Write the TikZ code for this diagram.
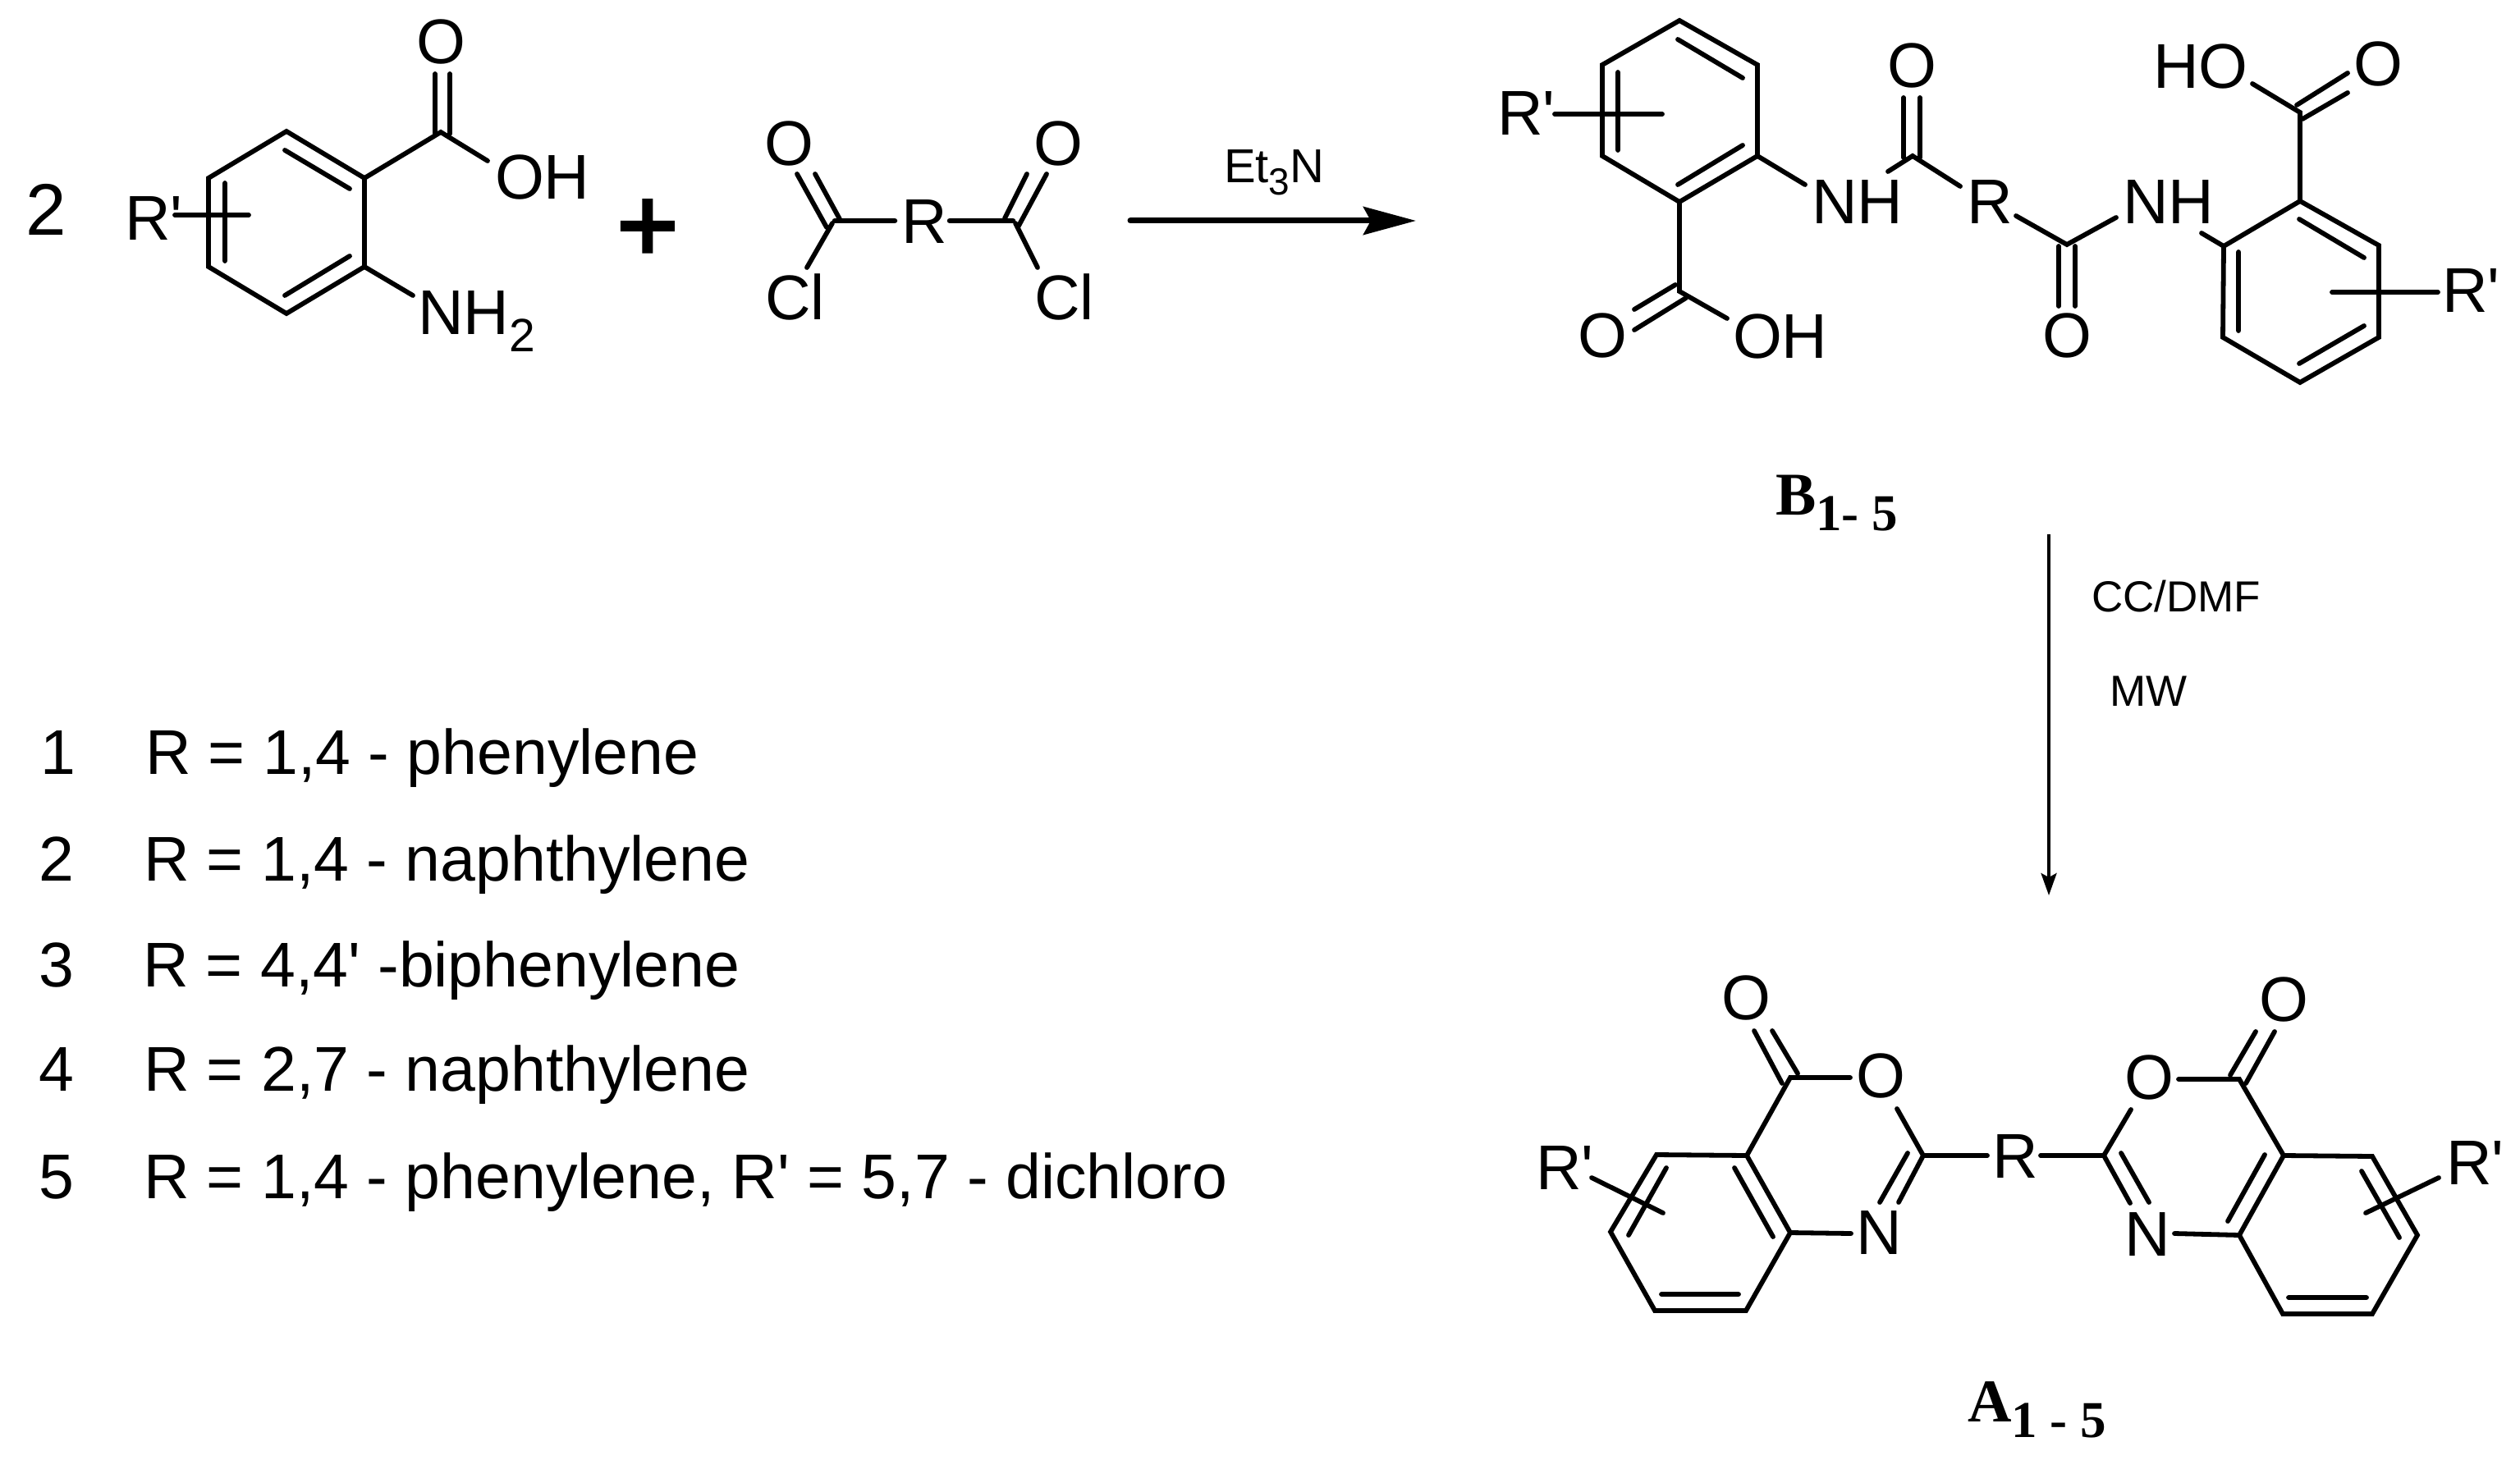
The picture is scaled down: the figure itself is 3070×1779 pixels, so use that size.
\documentclass[tikz,border=0pt]{standalone}
\usepackage{fontspec}
\usetikzlibrary{arrows.meta}
\newfontfamily\af{Liberation Sans}
\newfontfamily\afheavy{Liberation Sans}[FakeBold=3]
\newfontfamily\tf{Liberation Serif}
\newcommand\fsz[1]{\fontsize{#1}{#1}\selectfont}
\newcommand\subtxt[3]{\raisebox{-#1pt}{\fsz{#2}#3}}
\tikzset{
  bond/.style={line width=5.8pt,line cap=round,line join=miter,black},
  hbond/.style={line width=6.5pt,line cap=round,black},
  lbl/.style={inner sep=0pt,outer sep=0pt,anchor=base west,font=\af\fsz{77},text=black},
  lblc/.style={lbl,anchor=base},
  listline/.style={lbl},
  cond/.style={lbl,font=\af\fsz{53}},
  cpd/.style={lbl,font=\tf\bfseries\fsz{74}},
  rxnbig/.style={-{Stealth[length=64pt,width=34pt,inset=9pt]},line width=7pt,line cap=round,black},
  rxnthin/.style={-{Stealth[length=27pt,width=19pt,inset=5pt]},line width=3.5pt,black},
}
\begin{document}
\begin{tikzpicture}[x=1pt,y=-1pt]
\fill[white] (0,0) rectangle (3070,1779);
\useasboundingbox (0,0) rectangle (3070,1779);

% ---------- anthranilic acid
\draw[bond] (349,160) -- (444,217) -- (444,325) -- (349,382) -- (254,325) -- (254,217) -- cycle;
\draw[bond] (347,183) -- (426,230) (426,312) -- (347,360) (274,223) -- (274,318);
\draw[bond] (444,217) -- (537,161) -- (594,196);
\draw[bond] (530,90) -- (530,163) (548,90) -- (548,163);
\draw[bond] (444,325) -- (503,360);
\draw[bond] (213,262) -- (303,262);
\node[lbl,font=\af\fsz{89}] (two) at (31,287) {2};
\node[lbl] (r1) at (152,293) {R'};
\node[lblc] (o1) at (537,78) {O};
\node[lbl] (oh1) at (603,243) {OH};
\node[lbl] (nh2) at (509,407) {NH\subtxt{21}{57}{2}};
\node[inner sep=0pt,font=\afheavy\fsz{128},text=black] (plus) at (789,281) {+};

% ---------- diacid chloride
\draw[bond] (971,212) -- (1007,277) (993,212) -- (1023,267);
\draw[bond] (1251,212) -- (1224,266) (1275,212) -- (1240,277);
\draw[hbond] (1017,269) -- (1090,269) (1157,269) -- (1234,269);
\draw[bond] (1014,272) -- (983,326) (1237,272) -- (1264,326);
\node[lblc] (o2) at (961,202) {O};
\node[lblc] (o3) at (1289,202) {O};
\node[lbl] (r2) at (1098,297) {R};
\node[lbl] (cl1) at (932,389) {Cl};
\node[lbl] (cl2) at (1260,389) {Cl};

% ---------- first arrow
\coordinate (a1s) at (1377,269);
\coordinate (a1e) at (1725,269);
\draw[rxnbig] (a1s) -- (a1e);
\node[lbl,font=\af\fsz{58}] (et) at (1491,223) {Et\subtxt{15}{46}{3}N};

% ---------- compound B
\draw[bond] (2046,25) -- (2141,79) -- (2141,190) -- (2046,246) -- (1952,190) -- (1952,79) -- cycle;
\draw[bond] (2044,48) -- (2123,95) (2123,177) -- (2044,225) (1971,88) -- (1971,183);
\draw[bond] (1894,139) -- (2025,139);
\draw[bond] (2046,246) -- (2046,355) -- (2104,388);
\draw[bond] (2041,347) -- (1991,377) (2054,363) -- (1991,402);
\draw[bond] (2141,190) -- (2199,225);
\draw[bond] (2300,209) -- (2330,190) -- (2388,227);
\draw[bond] (2319,119) -- (2319,192) (2339,119) -- (2339,192);
\draw[bond] (2456,263) -- (2518,298) -- (2578,265);
\draw[bond] (2508,300) -- (2508,373) (2528,300) -- (2528,373);
\draw[bond] (2682,284) -- (2709,300);
\draw[bond] (2709,300) -- (2802,245) -- (2898,299) -- (2898,411) -- (2802,466) -- (2708,411) -- cycle;
\draw[bond] (2801,267) -- (2880,314) (2880,397) -- (2801,443) (2727,307) -- (2727,403);
\draw[bond] (2841,356) -- (2970,356);
\draw[bond] (2802,245) -- (2802,137) -- (2744,102);
\draw[bond] (2798,128) -- (2860,89) (2805,145) -- (2860,113);
\node[lbl] (r3) at (1824,165) {R'};
\node[lblc] (o4) at (2329,107) {O};
\node[lbl] (nh1) at (2207,273) {NH};
\node[lbl] (r4) at (2396,273) {R};
\node[lblc] (o5) at (1952,435) {O};
\node[lbl] (oh2) at (2111,436) {OH};
\node[lblc] (o6) at (2518,435) {O};
\node[lbl] (nh3) at (2586,273) {NH};
\node[lbl] (ho) at (2623,108) {HO};
\node[lblc] (o7) at (2897,105) {O};
\node[lbl] (r5) at (2975,380) {R'};
\node[cpd] (bl) at (2163,627) {B\subtxt{19}{63}{1- 5}};

% ---------- second arrow
\coordinate (a2s) at (2496,651);
\coordinate (a2e) at (2496,1091);
\draw[rxnthin] (a2s) -- (a2e);
\node[cond] (cc) at (2548,745) {CC/DMF};
\node[cond] (mw) at (2570,860) {MW};

% ---------- compound A, left half
\draw[bond] (2018,1407) -- (2128,1408) -- (2181,1502) -- (2127,1597) -- (2016,1597) -- (1962,1501) -- cycle;
\draw[bond] (2113,1423) -- (2160,1507) (2030,1423) -- (1984,1505) (2024,1577) -- (2118,1577);
\draw[bond] (2137,1256) -- (2171,1320) (2159,1256) -- (2190,1308);
\draw[bond] (2128,1408) -- (2181,1313) -- (2254,1313);
\draw[bond] (2311,1351) -- (2343,1408) -- (2313,1465);
\draw[bond] (2324,1405) -- (2290,1465);
\draw[bond] (2343,1408) -- (2421,1408);
\draw[bond] (2181,1502) -- (2255,1503);
\draw[bond] (1939,1435) -- (2026,1478);
\node[lblc] (o8) at (2127,1242) {O};
\node[lblc] (o9) at (2291,1337) {O};
\node[lbl] (n1) at (2261,1528) {N};
\node[lbl] (r6) at (2427,1435) {R};
\node[lbl] (r7) at (1871,1449) {R'};

% ---------- compound A, right half
\draw[bond] (2782,1408) -- (2890,1409) -- (2945,1505) -- (2890,1601) -- (2781,1601) -- (2728,1505) -- cycle;
\draw[bond] (2759,1407) -- (2714,1488) (2877,1427) -- (2923,1508) (2788,1581) -- (2883,1581);
\draw[bond] (2486,1408) -- (2563,1408);
\draw[bond] (2596,1352) -- (2563,1408) -- (2595,1466);
\draw[bond] (2584,1405) -- (2618,1465);
\draw[bond] (2654,1315) -- (2728,1315) -- (2782,1408);
\draw[bond] (2717,1310) -- (2748,1257) (2736,1320) -- (2771,1257);
\draw[bond] (2649,1503) -- (2728,1505);
\draw[bond] (2971,1435) -- (2882,1478);
\node[lblc] (o10) at (2618,1339) {O};
\node[lbl] (n2) at (2588,1530) {N};
\node[lblc] (o11) at (2782,1244) {O};
\node[lbl] (r8) at (2980,1443) {R'};
\node[cpd] (al) at (2397,1732) {A\subtxt{19}{63}{1 - 5}};

% ---------- list
\node[listline] (n11) at (49,943) {1};
\node[listline] (t1) at (177,943) {R = 1,4 - phenylene};
\node[listline] (n12) at (47,1073) {2};
\node[listline] (t2) at (175,1073) {R = 1,4 - naphthylene};
\node[listline] (n13) at (47,1202) {3};
\node[listline] (t3) at (174,1202) {R = 4,4' -biphenylene};
\node[listline] (n14) at (47,1329) {4};
\node[listline] (t4) at (175,1329) {R = 2,7 - naphthylene};
\node[listline] (n15) at (47,1460) {5};
\node[listline] (t5) at (175,1460) {R = 1,4 - phenylene, R' = 5,7 - dichloro};
\end{tikzpicture}
\end{document}
